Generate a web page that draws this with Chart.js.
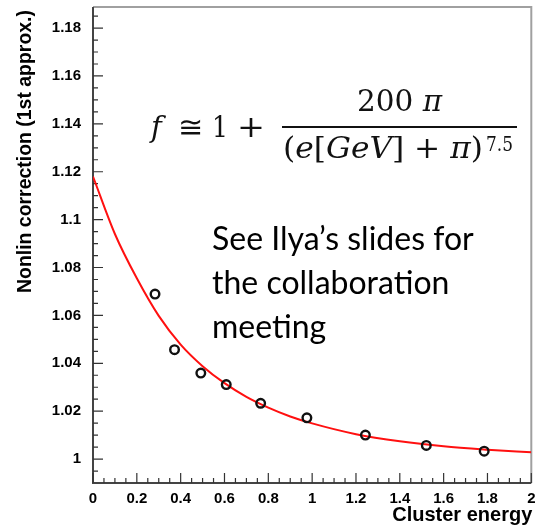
<!DOCTYPE html>
<html><head><meta charset="utf-8">
<script src="https://cdn.jsdelivr.net/npm/chart.js@4.4.1/dist/chart.umd.min.js"></script>
<style>html,body{margin:0;padding:0;background:#fff}canvas{display:block}</style>
</head><body>
<canvas id="c" width="538" height="527"></canvas>
<script>
// ---- data ----
const X_TICKS = [0, 0.2, 0.4, 0.6, 0.8, 1, 1.2, 1.4, 1.6, 1.8, 2];
const X_TICK_LABELS = ['0', '0.2', '0.4', '0.6', '0.8', '1', '1.2', '1.4', '1.6', '1.8', '2'];
const Y_TICKS = [1, 1.02, 1.04, 1.06, 1.08, 1.1, 1.12, 1.14, 1.16, 1.18];
const Y_TICK_LABELS = ['1', '1.02', '1.04', '1.06', '1.08', '1.1', '1.12', '1.14', '1.16', '1.18'];
const ENERGY = [0.283, 0.372, 0.492, 0.608, 0.765, 0.976, 1.243, 1.521, 1.785];
const CORRECTION = [1.0689, 1.0457, 1.0359, 1.0311, 1.0233, 1.0172, 1.0100, 1.0057, 1.0033];
const CURVE_E = [0, 0.1, 0.2, 0.3, 0.4, 0.5, 0.6, 0.7, 0.8, 0.9, 1.0, 1.2, 1.4, 1.6, 1.8, 2.0];
const CURVE_F = [1.118, 1.094, 1.0755, 1.0598, 1.0478, 1.0388, 1.0317, 1.026, 1.0215, 1.0178, 1.0149, 1.0104, 1.0074, 1.0053, 1.0039, 1.0028];
const X_TITLE = 'Cluster energy';
const Y_TITLE = 'Nonlin correction (1st approx.)';
const NOTE_LINES = ['See Ilya\u2019s slides for', 'the collaboration', 'meeting'];

const SANS = '"Liberation Sans", Arial, Helvetica, sans-serif';
const SERIF = '"DejaVu Serif", "Liberation Serif", serif';

function drawRun(ctx, parts, x, baseline, targetWidth) {
  let total = 0;
  parts.forEach(p => { ctx.font = p.font; p.w = ctx.measureText(p.t).width; total += p.w; });
  const s = targetWidth ? targetWidth / total : 1;
  ctx.save();
  ctx.translate(x, baseline);
  ctx.scale(s, 1);
  ctx.textAlign = 'left';
  ctx.textBaseline = 'alphabetic';
  let cx = 0;
  parts.forEach(p => { ctx.font = p.font; ctx.fillText(p.t, cx, 0); cx += p.w; });
  ctx.restore();
}

const rootStyle = {
  id: 'rootStyle',
  beforeDatasetsDraw(chart) {
    const { ctx, chartArea: a, scales: { x, y } } = chart;
    ctx.save();
    // frame top/right
    ctx.strokeStyle = '#a0a0a0';
    ctx.lineWidth = 2;
    ctx.beginPath();
    ctx.moveTo(a.left, a.top); ctx.lineTo(a.right, a.top); ctx.lineTo(a.right, a.bottom);
    ctx.stroke();
    // axes
    ctx.strokeStyle = '#444';
    ctx.lineWidth = 2;
    ctx.beginPath();
    ctx.moveTo(a.left, a.top); ctx.lineTo(a.left, a.bottom); ctx.lineTo(a.right, a.bottom);
    ctx.stroke();
    // inward ticks
    ctx.strokeStyle = '#333';
    ctx.lineWidth = 1.2;
    ctx.beginPath();
    for (let i = 0; i <= 40; i++) {
      const px = x.getPixelForValue(i * 0.05);
      const len = i % 4 === 0 ? 10 : 5;
      ctx.moveTo(px, a.bottom); ctx.lineTo(px, a.bottom - len);
    }
    for (let i = -1; i <= 40; i++) {
      const v = 1 + i * 0.005;
      if (v > y.max) break;
      const py = y.getPixelForValue(v);
      const len = ((i % 4) + 4) % 4 === 0 ? 10 : 5;
      ctx.moveTo(a.left, py); ctx.lineTo(a.left + len, py);
    }
    ctx.stroke();
    ctx.restore();
  },
  afterDraw(chart) {
    const { ctx, chartArea: a } = chart;
    ctx.save();
    ctx.fillStyle = '#000';
    // axis titles
    ctx.font = 'bold 20px ' + SANS;
    ctx.textAlign = 'right';
    ctx.textBaseline = 'alphabetic';
    ctx.fillText(X_TITLE, a.right + 1, 521);
    ctx.save();
    ctx.translate(31, 10);
    ctx.rotate(-Math.PI / 2);
    ctx.textAlign = 'right';
    ctx.fillText(Y_TITLE, 0, 0, 283);
    ctx.restore();

    // formula
    ctx.fillStyle = '#111';
    const R = '29px ' + SERIF, I = 'italic 29px ' + SERIF;
    drawRun(ctx, [{ t: 'f', font: I }], 151, 137);
    drawRun(ctx, [{ t: '\u2245', font: R }], 178, 137, 25);
    drawRun(ctx, [{ t: '1', font: R }], 212, 137, 16);
    drawRun(ctx, [{ t: '+', font: R }], 237, 137, 28);
    drawRun(ctx, [{ t: '200 ', font: R }, { t: '\u03c0', font: I }], 357, 111, 85);
    ctx.fillRect(282, 126, 235, 2);
    drawRun(ctx, [
      { t: '(', font: R }, { t: 'e', font: I }, { t: '[', font: R }, { t: 'GeV', font: I },
      { t: ']', font: R }, { t: ' + ', font: R }, { t: '\u03c0', font: I }, { t: ')', font: R }
    ], 283, 158, 200);
    drawRun(ctx, [{ t: '7.5', font: '20px ' + SERIF }], 486, 151, 27);

    // note
    ctx.fillStyle = '#000';
    ctx.font = '32px Lato, "Open Sans", sans-serif';
    ctx.textAlign = 'left';
    const base = [250, 294, 338];
    const widths = [273, 255, 120];
    NOTE_LINES.forEach((t, i) => ctx.fillText(t, 212, base[i], widths[i]));
    ctx.restore();
  }
};

new Chart(document.getElementById('c'), {
  type: 'scatter',
  data: {
    datasets: [
      {
        label: 'points',
        data: ENERGY.map((e, i) => ({ x: e, y: CORRECTION[i] })),
        showLine: false,
        pointStyle: 'circle',
        pointRadius: 4.3,
        pointBorderWidth: 2.4,
        borderColor: '#111',
        backgroundColor: 'rgba(0,0,0,0)',
        pointBackgroundColor: 'rgba(0,0,0,0)',
        order: 0
      },
      {
        label: 'fit',
        data: CURVE_E.map((e, i) => ({ x: e, y: CURVE_F[i] })),
        showLine: true,
        pointRadius: 0,
        borderColor: '#ff1010',
        borderWidth: 2,
        cubicInterpolationMode: 'monotone',
        order: 1
      }
    ]
  },
  options: {
    responsive: false,
    animation: false,
    devicePixelRatio: 1,
    layout: { padding: { top: 7, right: 4, left: 0, bottom: 0 } },
    plugins: { legend: { display: false }, tooltip: { enabled: false } },
    scales: {
      x: {
        type: 'linear', min: 0, max: 2,
        grid: { display: false, drawTicks: false },
        border: { display: false },
        afterFit(s) { s.height = 44; s.paddingLeft = 0; s.paddingRight = 0; },
        afterBuildTicks(s) { s.ticks = X_TICKS.map(v => ({ value: v })); },
        ticks: {
          autoSkip: false, maxRotation: 0, padding: 7, color: '#000',
          font: { family: SANS, size: 15, weight: 'bold' },
          callback: (v) => { const k = X_TICKS.findIndex(t => Math.abs(t - v) < 1e-9); return k >= 0 ? X_TICK_LABELS[k] : ''; }
        }
      },
      y: {
        type: 'linear', min: 0.99, max: 1.1888,
        grid: { display: false, drawTicks: false },
        border: { display: false },
        afterFit(s) { s.width = 93; s.paddingTop = 0; s.paddingBottom = 0; },
        afterBuildTicks(s) { s.ticks = Y_TICKS.map(v => ({ value: v })); },
        ticks: {
          autoSkip: false, padding: 12, color: '#000',
          font: { family: SANS, size: 15, weight: 'bold' },
          callback: (v) => { const k = Y_TICKS.findIndex(t => Math.abs(t - v) < 1e-9); return k >= 0 ? Y_TICK_LABELS[k] : ''; }
        }
      }
    }
  },
  plugins: [rootStyle]
});
</script>
</body></html>
